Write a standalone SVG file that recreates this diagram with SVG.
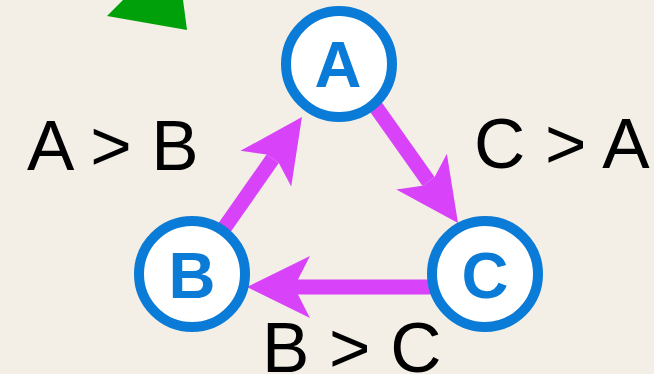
<svg xmlns="http://www.w3.org/2000/svg" width="654" height="374" viewBox="0 0 654 374">
  <style>
    .node circle { fill: #ffffff; stroke: #0A7BD6; stroke-width: 10; }
    .node text { font-family: "Liberation Sans", Arial, sans-serif; font-weight: bold; font-size: 65px; fill: #0A7BD6; text-anchor: middle; }
    .edge { stroke: #D843F9; stroke-width: 15; fill: none; marker-end: url(#head); }
    .label { font-family: "Liberation Sans", Arial, sans-serif; font-size: 71px; fill: #000000; }
  </style>
  <defs>
    <!-- swept-back arrowhead; origin sits where the shaft meets the head -->
    <marker id="head" markerUnits="userSpaceOnUse" viewBox="-13 -32 65 64" refX="0" refY="0" markerWidth="65" markerHeight="64" orient="auto" overflow="visible">
      <path d="M51,0 L-12,-31 L0,-7.5 L0,7.5 L-12,31 Z" fill="#D843F9"/>
    </marker>
  </defs>

  <!-- paper background -->
  <rect x="0" y="0" width="654" height="374" fill="#F3EFE6"/>

  <!-- green triangle, mostly above the top edge -->
  <polygon points="107,16 187,30 176,-53" fill="#00A00A"/>

  <g id="connectors">
    <line id="edge-b-a" class="edge" x1="192" y1="274" x2="272.7" y2="158.8"/>
    <line id="edge-a-c" class="edge" x1="367.4" y1="95.2" x2="428.5" y2="181.4"/>
    <line id="edge-c-b" class="edge" x1="485" y1="287" x2="298" y2="287"/>
  </g>

  <g id="node-a" class="node">
    <circle cx="339" cy="64" r="53"/>
    <text x="338" y="87">A</text>
  </g>
  <g id="node-b" class="node">
    <circle cx="192" cy="274" r="53"/>
    <text x="192" y="298">B</text>
  </g>
  <g id="node-c" class="node">
    <circle cx="485" cy="274" r="53"/>
    <text x="485" y="298">C</text>
  </g>

  <g id="labels">
    <text class="label" x="27" y="170">A &gt; B</text>
    <text class="label" x="474" y="168">C &gt; A</text>
    <text class="label" x="262" y="372">B &gt; C</text>
  </g>
</svg>
